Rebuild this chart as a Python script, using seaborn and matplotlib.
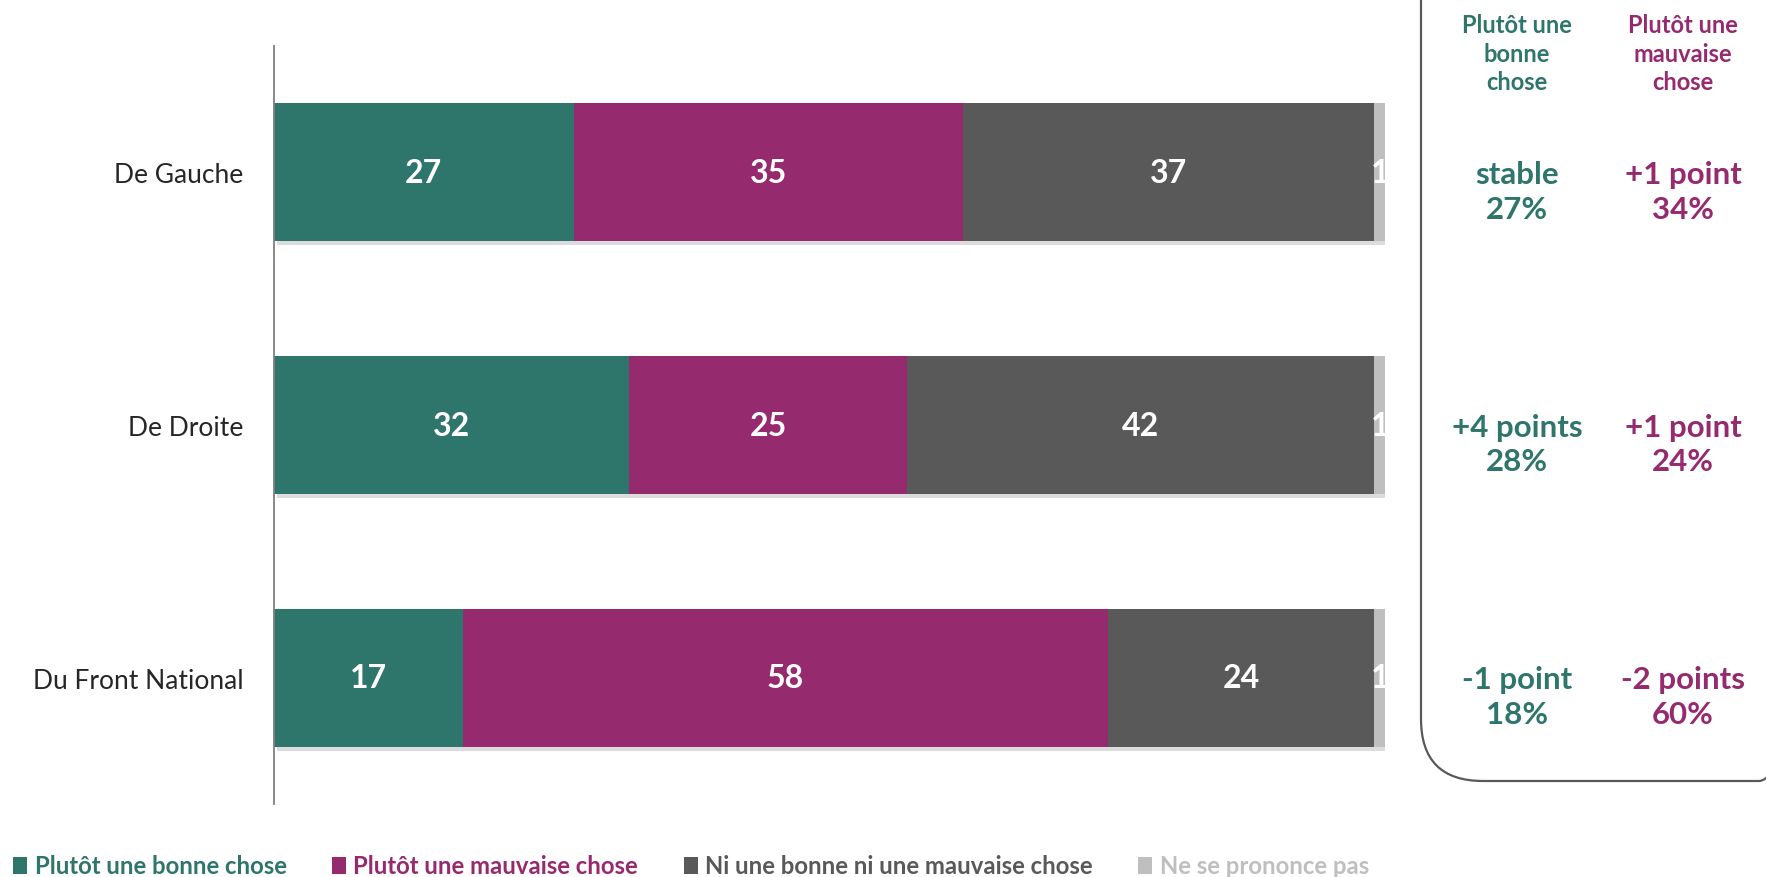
import numpy as np
import pandas as pd
import matplotlib
matplotlib.use("Agg")
import matplotlib.pyplot as plt
import matplotlib.patheffects as pe
from matplotlib.patches import Patch, FancyBboxPatch
import seaborn as sns

categories = ["De Gauche", "De Droite", "Du Front National"]
series = ["Plutôt une bonne chose", "Plutôt une mauvaise chose",
          "Ni une bonne ni une mauvaise chose", "Ne se prononce pas"]
bonne = [27, 32, 17]
mauvaise = [35, 25, 58]
ni = [37, 42, 24]
nsp = [1, 1, 1]
colors = ["#2E756C", "#952A6E", "#595959", "#BFBFBF"]

# right panel: evolution + previous score
bonne_evol = ["stable", "+4 points", "-1 point"]
bonne_prev = ["27%", "28%", "18%"]
mauvaise_evol = ["+1 point", "+1 point", "-2 points"]
mauvaise_prev = ["34%", "24%", "60%"]
panel_heads = ["Plutôt une\nbonne\nchose", "Plutôt une\nmauvaise\nchose"]

sns.set_style("white")
plt.rcParams["font.family"] = ["Lato", "DejaVu Sans"]

df = pd.DataFrame({"cat": categories, series[0]: bonne, series[1]: mauvaise,
                   series[2]: ni, series[3]: nsp})
cum = df[series].cumsum(axis=1)

fig = plt.figure(figsize=(17.66, 8.78), dpi=100)
ax = fig.add_axes([0.155, 0.0831, 0.6295, 0.8634])

# stacked bars: draw cumulative totals from largest to smallest
for s, c in reversed(list(zip(series, colors))):
    sns.barplot(x=cum[s], y=df["cat"], color=c, width=0.545, orient="h",
                ax=ax, saturation=1, zorder=2)
for p in ax.patches:
    p.set_edgecolor("none")
# soft shadow only under the full-length bars
shadow = [pe.withSimplePatchShadow(offset=(2, -3), shadow_rgbFace="#8c8c8c", alpha=0.3)]
for p in ax.patches[:len(categories)]:
    p.set_path_effects(shadow)

# segment labels
for i in range(len(categories)):
    left = 0
    for s in series:
        v = df.loc[i, s]
        ax.text(left + v / 2, i, str(v), ha="center", va="center",
                color="white", fontsize=23, fontweight="bold", zorder=5)
        left += v

ax.set_xlim(0, 100)
ax.set_ylim(2.5, -0.5)
ax.set_xlabel("")
ax.set_ylabel("")
ax.set_xticks([])
sns.despine(ax=ax, top=True, right=True, bottom=True)
ax.spines["left"].set_color("#7f7f7f")
ax.spines["left"].set_linewidth(1.3)
ax.set_yticks(range(3))
ax.set_yticklabels(categories, fontsize=19)
ax.set_yticks([-0.5, 0.5, 1.5, 2.5], minor=True)
ax.tick_params(axis="y", which="major", length=0, pad=22)
ax.tick_params(axis="y", which="minor", length=7, width=1.3, color="#7f7f7f", direction="out")

# right panel
tr = ax.get_yaxis_transform()
for i in range(3):
    ax.text(1.1184, i + 0.075, bonne_evol[i] + "\n" + bonne_prev[i], transform=tr,
            ha="center", va="center", color=colors[0], fontsize=22.5,
            fontweight="bold", linespacing=1.3, clip_on=False)
    ax.text(1.2677, i + 0.075, mauvaise_evol[i] + "\n" + mauvaise_prev[i], transform=tr,
            ha="center", va="center", color=colors[1], fontsize=22.5,
            fontweight="bold", linespacing=1.3, clip_on=False)

ov = fig.add_axes([0, 0, 1, 1], facecolor="none")
ov.set_xlim(0, 1766)
ov.set_ylim(878, 0)
ov.axis("off")
ov.add_patch(FancyBboxPatch((1421, -120), 400, 902, boxstyle="round,pad=0,rounding_size=62",
                            fill=False, edgecolor="#595959", linewidth=1.6))
ov.text(1517, 54, panel_heads[0], ha="center", va="center", color=colors[0],
        fontsize=17, fontweight="bold", linespacing=1.3)
ov.text(1683, 54, panel_heads[1], ha="center", va="center", color=colors[1],
        fontsize=17, fontweight="bold", linespacing=1.3)

handles = [Patch(facecolor=c, edgecolor="none") for c in colors]
fig.legend(handles, series, loc="center", bbox_to_anchor=(691 / 1766, 1 - 867 / 878),
           ncol=4, frameon=False, labelcolor=colors,
           prop={"weight": "bold", "size": 17.2}, handlelength=0.6, handleheight=0.7,
           handletextpad=0.3, columnspacing=1.9)

fig.savefig("out.png", dpi=100)
